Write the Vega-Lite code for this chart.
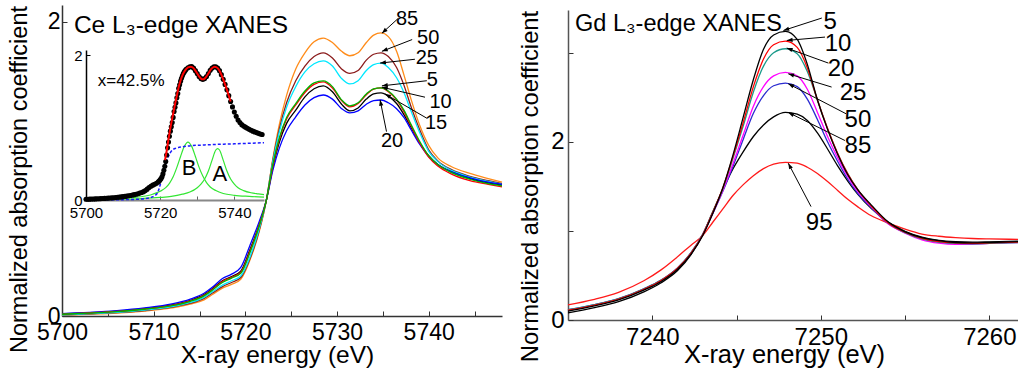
{
"$schema":"https://vega.github.io/schema/vega-lite/v6.json",
"width":1018,"height":374,"autosize":{"type":"none"},"padding":0,"background":"white",
"config":{"view":{"stroke":null},"axis":{"grid":false,"labelFont":"Liberation Sans","titleFont":"Liberation Sans","labelColor":"#000","titleColor":"#000","titleFontWeight":"normal","domainColor":"#333","tickColor":"#333","domainWidth":1.5,"labelFlush":false,"labelOverlap":false,"labelBound":false,"titleAlign":"center"},"text":{"font":"Liberation Sans","color":"#000"}},
"datasets":{
"ce":[
{"s":"85","x":5700,"y":0.005},{"s":"85","x":5703,"y":0.012},{"s":"85","x":5706,"y":0.02},{"s":"85","x":5709,"y":0.033},{"s":"85","x":5712,"y":0.055},{"s":"85","x":5714,"y":0.08},{"s":"85","x":5715.5,"y":0.11},{"s":"85","x":5716.5,"y":0.15},{"s":"85","x":5717.5,"y":0.19},{"s":"85","x":5718.5,"y":0.215},{"s":"85","x":5719.5,"y":0.25},{"s":"85","x":5720.5,"y":0.38},{"s":"85","x":5721.5,"y":0.57},{"s":"85","x":5722.3,"y":0.79},{"s":"85","x":5723,"y":1.07},{"s":"85","x":5723.7,"y":1.3},{"s":"85","x":5724.5,"y":1.5},{"s":"85","x":5725.5,"y":1.68},{"s":"85","x":5726.5,"y":1.79},{"s":"85","x":5727.5,"y":1.865},{"s":"85","x":5728.5,"y":1.89},{"s":"85","x":5729.5,"y":1.86},{"s":"85","x":5730.5,"y":1.8},{"s":"85","x":5731.4,"y":1.77},{"s":"85","x":5732.3,"y":1.79},{"s":"85","x":5733.2,"y":1.86},{"s":"85","x":5734,"y":1.91},{"s":"85","x":5734.8,"y":1.925},{"s":"85","x":5735.6,"y":1.9},{"s":"85","x":5736.5,"y":1.8},{"s":"85","x":5737.3,"y":1.64},{"s":"85","x":5738.1,"y":1.47},{"s":"85","x":5739,"y":1.3},{"s":"85","x":5740,"y":1.16},{"s":"85","x":5741,"y":1.075},{"s":"85","x":5742.5,"y":1.015},{"s":"85","x":5744.5,"y":0.97},{"s":"85","x":5746.5,"y":0.935},{"s":"85","x":5748,"y":0.91},
{"s":"50","x":5700,"y":0.007},{"s":"50","x":5703,"y":0.014},{"s":"50","x":5706,"y":0.023},{"s":"50","x":5709,"y":0.037},{"s":"50","x":5712,"y":0.06},{"s":"50","x":5714,"y":0.087},{"s":"50","x":5715.5,"y":0.12},{"s":"50","x":5716.5,"y":0.16},{"s":"50","x":5717.5,"y":0.2},{"s":"50","x":5718.5,"y":0.228},{"s":"50","x":5719.5,"y":0.262},{"s":"50","x":5720.5,"y":0.39},{"s":"50","x":5721.5,"y":0.58},{"s":"50","x":5722.3,"y":0.79},{"s":"50","x":5723,"y":1.06},{"s":"50","x":5723.7,"y":1.27},{"s":"50","x":5724.5,"y":1.45},{"s":"50","x":5725.5,"y":1.6},{"s":"50","x":5726.5,"y":1.7},{"s":"50","x":5727.5,"y":1.765},{"s":"50","x":5728.5,"y":1.79},{"s":"50","x":5729.5,"y":1.755},{"s":"50","x":5730.5,"y":1.68},{"s":"50","x":5731.4,"y":1.65},{"s":"50","x":5732.3,"y":1.67},{"s":"50","x":5733.2,"y":1.74},{"s":"50","x":5734,"y":1.78},{"s":"50","x":5734.8,"y":1.79},{"s":"50","x":5735.6,"y":1.765},{"s":"50","x":5736.5,"y":1.69},{"s":"50","x":5737.3,"y":1.57},{"s":"50","x":5738.1,"y":1.42},{"s":"50","x":5739,"y":1.27},{"s":"50","x":5740,"y":1.13},{"s":"50","x":5741,"y":1.055},{"s":"50","x":5742.5,"y":0.995},{"s":"50","x":5744.5,"y":0.95},{"s":"50","x":5746.5,"y":0.92},{"s":"50","x":5748,"y":0.9},
{"s":"25","x":5700,"y":0.008},{"s":"25","x":5703,"y":0.016},{"s":"25","x":5706,"y":0.025},{"s":"25","x":5709,"y":0.04},{"s":"25","x":5712,"y":0.063},{"s":"25","x":5714,"y":0.092},{"s":"25","x":5715.5,"y":0.127},{"s":"25","x":5716.5,"y":0.168},{"s":"25","x":5717.5,"y":0.21},{"s":"25","x":5718.5,"y":0.24},{"s":"25","x":5719.5,"y":0.272},{"s":"25","x":5720.5,"y":0.4},{"s":"25","x":5721.5,"y":0.59},{"s":"25","x":5722.3,"y":0.79},{"s":"25","x":5723,"y":1.05},{"s":"25","x":5723.7,"y":1.25},{"s":"25","x":5724.5,"y":1.42},{"s":"25","x":5725.5,"y":1.56},{"s":"25","x":5726.5,"y":1.66},{"s":"25","x":5727.5,"y":1.715},{"s":"25","x":5728.5,"y":1.735},{"s":"25","x":5729.5,"y":1.7},{"s":"25","x":5730.5,"y":1.615},{"s":"25","x":5731.4,"y":1.578},{"s":"25","x":5732.3,"y":1.6},{"s":"25","x":5733.2,"y":1.67},{"s":"25","x":5734,"y":1.71},{"s":"25","x":5734.8,"y":1.72},{"s":"25","x":5735.6,"y":1.69},{"s":"25","x":5736.5,"y":1.62},{"s":"25","x":5737.3,"y":1.52},{"s":"25","x":5738.1,"y":1.39},{"s":"25","x":5739,"y":1.25},{"s":"25","x":5740,"y":1.12},{"s":"25","x":5741,"y":1.05},{"s":"25","x":5742.5,"y":0.99},{"s":"25","x":5744.5,"y":0.945},{"s":"25","x":5746.5,"y":0.915},{"s":"25","x":5748,"y":0.895},
{"s":"15","x":5700,"y":0.014},{"s":"15","x":5703,"y":0.022},{"s":"15","x":5706,"y":0.033},{"s":"15","x":5709,"y":0.05},{"s":"15","x":5712,"y":0.075},{"s":"15","x":5714,"y":0.107},{"s":"15","x":5715.5,"y":0.145},{"s":"15","x":5716.5,"y":0.19},{"s":"15","x":5717.5,"y":0.24},{"s":"15","x":5718.5,"y":0.268},{"s":"15","x":5719.5,"y":0.305},{"s":"15","x":5720.5,"y":0.45},{"s":"15","x":5721.5,"y":0.62},{"s":"15","x":5722.3,"y":0.79},{"s":"15","x":5723,"y":1.01},{"s":"15","x":5723.7,"y":1.18},{"s":"15","x":5724.5,"y":1.31},{"s":"15","x":5725.5,"y":1.4},{"s":"15","x":5726.5,"y":1.49},{"s":"15","x":5727.5,"y":1.545},{"s":"15","x":5728.5,"y":1.565},{"s":"15","x":5729.5,"y":1.525},{"s":"15","x":5730.5,"y":1.44},{"s":"15","x":5731.4,"y":1.395},{"s":"15","x":5732.3,"y":1.415},{"s":"15","x":5733.2,"y":1.475},{"s":"15","x":5734,"y":1.51},{"s":"15","x":5734.8,"y":1.517},{"s":"15","x":5735.6,"y":1.495},{"s":"15","x":5736.5,"y":1.445},{"s":"15","x":5737.3,"y":1.37},{"s":"15","x":5738.1,"y":1.28},{"s":"15","x":5739,"y":1.18},{"s":"15","x":5740,"y":1.09},{"s":"15","x":5741,"y":1.03},{"s":"15","x":5742.5,"y":0.98},{"s":"15","x":5744.5,"y":0.935},{"s":"15","x":5746.5,"y":0.905},{"s":"15","x":5748,"y":0.89},
{"s":"20","x":5700,"y":0.016},{"s":"20","x":5703,"y":0.025},{"s":"20","x":5706,"y":0.037},{"s":"20","x":5709,"y":0.055},{"s":"20","x":5712,"y":0.082},{"s":"20","x":5714,"y":0.115},{"s":"20","x":5715.5,"y":0.155},{"s":"20","x":5716.5,"y":0.2},{"s":"20","x":5717.5,"y":0.255},{"s":"20","x":5718.5,"y":0.285},{"s":"20","x":5719.5,"y":0.33},{"s":"20","x":5720.5,"y":0.48},{"s":"20","x":5721.5,"y":0.64},{"s":"20","x":5722.3,"y":0.79},{"s":"20","x":5723,"y":0.99},{"s":"20","x":5723.7,"y":1.14},{"s":"20","x":5724.5,"y":1.26},{"s":"20","x":5725.5,"y":1.355},{"s":"20","x":5726.5,"y":1.435},{"s":"20","x":5727.5,"y":1.485},{"s":"20","x":5728.5,"y":1.503},{"s":"20","x":5729.5,"y":1.475},{"s":"20","x":5730.5,"y":1.41},{"s":"20","x":5731.4,"y":1.381},{"s":"20","x":5732.3,"y":1.395},{"s":"20","x":5733.2,"y":1.44},{"s":"20","x":5734,"y":1.465},{"s":"20","x":5734.8,"y":1.469},{"s":"20","x":5735.6,"y":1.45},{"s":"20","x":5736.5,"y":1.41},{"s":"20","x":5737.3,"y":1.35},{"s":"20","x":5738.1,"y":1.265},{"s":"20","x":5739,"y":1.17},{"s":"20","x":5740,"y":1.085},{"s":"20","x":5741,"y":1.03},{"s":"20","x":5742.5,"y":0.98},{"s":"20","x":5744.5,"y":0.94},{"s":"20","x":5746.5,"y":0.91},{"s":"20","x":5748,"y":0.895},
{"s":"10","x":5700,"y":0.013},{"s":"10","x":5703,"y":0.021},{"s":"10","x":5706,"y":0.031},{"s":"10","x":5709,"y":0.047},{"s":"10","x":5712,"y":0.072},{"s":"10","x":5714,"y":0.103},{"s":"10","x":5715.5,"y":0.14},{"s":"10","x":5716.5,"y":0.185},{"s":"10","x":5717.5,"y":0.235},{"s":"10","x":5718.5,"y":0.263},{"s":"10","x":5719.5,"y":0.297},{"s":"10","x":5720.5,"y":0.44},{"s":"10","x":5721.5,"y":0.615},{"s":"10","x":5722.3,"y":0.79},{"s":"10","x":5723,"y":1.02},{"s":"10","x":5723.7,"y":1.2},{"s":"10","x":5724.5,"y":1.34},{"s":"10","x":5725.5,"y":1.435},{"s":"10","x":5726.5,"y":1.52},{"s":"10","x":5727.5,"y":1.575},{"s":"10","x":5728.5,"y":1.592},{"s":"10","x":5729.5,"y":1.55},{"s":"10","x":5730.5,"y":1.465},{"s":"10","x":5731.4,"y":1.422},{"s":"10","x":5732.3,"y":1.445},{"s":"10","x":5733.2,"y":1.505},{"s":"10","x":5734,"y":1.543},{"s":"10","x":5734.8,"y":1.551},{"s":"10","x":5735.6,"y":1.525},{"s":"10","x":5736.5,"y":1.47},{"s":"10","x":5737.3,"y":1.39},{"s":"10","x":5738.1,"y":1.29},{"s":"10","x":5739,"y":1.18},{"s":"10","x":5740,"y":1.08},{"s":"10","x":5741,"y":1.02},{"s":"10","x":5742.5,"y":0.965},{"s":"10","x":5744.5,"y":0.92},{"s":"10","x":5746.5,"y":0.895},{"s":"10","x":5748,"y":0.878},
{"s":"5","x":5700,"y":0.012},{"s":"5","x":5703,"y":0.02},{"s":"5","x":5706,"y":0.03},{"s":"5","x":5709,"y":0.046},{"s":"5","x":5712,"y":0.07},{"s":"5","x":5714,"y":0.1},{"s":"5","x":5715.5,"y":0.137},{"s":"5","x":5716.5,"y":0.18},{"s":"5","x":5717.5,"y":0.228},{"s":"5","x":5718.5,"y":0.258},{"s":"5","x":5719.5,"y":0.29},{"s":"5","x":5720.5,"y":0.43},{"s":"5","x":5721.5,"y":0.61},{"s":"5","x":5722.3,"y":0.79},{"s":"5","x":5723,"y":1.03},{"s":"5","x":5723.7,"y":1.21},{"s":"5","x":5724.5,"y":1.35},{"s":"5","x":5725.5,"y":1.445},{"s":"5","x":5726.5,"y":1.53},{"s":"5","x":5727.5,"y":1.585},{"s":"5","x":5728.5,"y":1.599},{"s":"5","x":5729.5,"y":1.56},{"s":"5","x":5730.5,"y":1.47},{"s":"5","x":5731.4,"y":1.429},{"s":"5","x":5732.3,"y":1.45},{"s":"5","x":5733.2,"y":1.51},{"s":"5","x":5734,"y":1.545},{"s":"5","x":5734.8,"y":1.551},{"s":"5","x":5735.6,"y":1.53},{"s":"5","x":5736.5,"y":1.475},{"s":"5","x":5737.3,"y":1.4},{"s":"5","x":5738.1,"y":1.3},{"s":"5","x":5739,"y":1.19},{"s":"5","x":5740,"y":1.09},{"s":"5","x":5741,"y":1.03},{"s":"5","x":5742.5,"y":0.975},{"s":"5","x":5744.5,"y":0.93},{"s":"5","x":5746.5,"y":0.9},{"s":"5","x":5748,"y":0.885}
],
"celab":[
{"lab":"85","tx":5737.65,"ty":2.02,"ax":5736.7,"ay":2.025,"bx":5734.9,"by":1.923},
{"lab":"50","tx":5739.95,"ty":1.89,"ax":5738.2,"ay":1.88,"bx":5734.9,"by":1.8},
{"lab":"25","tx":5739.8,"ty":1.755,"ax":5738.5,"ay":1.746,"bx":5734.7,"by":1.72},
{"lab":"5","tx":5740.4,"ty":1.605,"ax":5739.8,"ay":1.6,"bx":5734.9,"by":1.565},
{"lab":"10","tx":5741.3,"ty":1.456,"ax":5739.6,"ay":1.488,"bx":5734.9,"by":1.556},
{"lab":"15","tx":5740.8,"ty":1.313,"ax":5739.8,"ay":1.345,"bx":5735.25,"by":1.51},
{"lab":"20","tx":5736.0,"ty":1.19,"ax":5735.4,"ay":1.254,"bx":5734.7,"by":1.47}
],
"dots":[
{"x":5700,"y":0.01},{"x":5700.5,"y":0.011},{"x":5701,"y":0.012},{"x":5701.5,"y":0.013},{"x":5702,"y":0.014},{"x":5702.5,"y":0.015},{"x":5703,"y":0.017},{"x":5703.5,"y":0.018},{"x":5704,"y":0.019},{"x":5704.5,"y":0.021},{"x":5705,"y":0.022},{"x":5705.5,"y":0.024},{"x":5706,"y":0.026},{"x":5706.5,"y":0.028},{"x":5707,"y":0.03},{"x":5707.5,"y":0.032},{"x":5708,"y":0.035},{"x":5708.5,"y":0.037},{"x":5709,"y":0.04},{"x":5709.5,"y":0.043},{"x":5710,"y":0.046},{"x":5710.5,"y":0.05},{"x":5711,"y":0.054},{"x":5711.5,"y":0.058},{"x":5712,"y":0.063},{"x":5712.5,"y":0.068},{"x":5713,"y":0.074},{"x":5713.5,"y":0.08},{"x":5714,"y":0.087},{"x":5714.5,"y":0.095},{"x":5715,"y":0.104},{"x":5715.5,"y":0.115},{"x":5716,"y":0.13},{"x":5716.5,"y":0.15},{"x":5717,"y":0.172},{"x":5717.5,"y":0.19},{"x":5718,"y":0.205},{"x":5718.5,"y":0.218},{"x":5719,"y":0.232},{"x":5719.5,"y":0.25},{"x":5719.75,"y":0.262},{"x":5720,"y":0.278},{"x":5720.25,"y":0.297},{"x":5720.5,"y":0.32},{"x":5720.75,"y":0.36},{"x":5721,"y":0.41},{"x":5721.25,"y":0.465},{"x":5721.5,"y":0.53},{"x":5721.75,"y":0.62},{"x":5722,"y":0.72},{"x":5722.25,"y":0.8},{"x":5722.5,"y":0.88},{"x":5722.75,"y":0.95},{"x":5723,"y":1.01},{"x":5723.25,"y":1.07},{"x":5723.5,"y":1.14},{"x":5723.75,"y":1.22},{"x":5724,"y":1.28},{"x":5724.25,"y":1.34},{"x":5724.5,"y":1.41},{"x":5724.75,"y":1.47},{"x":5725,"y":1.54},{"x":5725.25,"y":1.59},{"x":5725.5,"y":1.64},{"x":5725.75,"y":1.68},{"x":5726,"y":1.715},{"x":5726.25,"y":1.745},{"x":5726.5,"y":1.768},{"x":5726.75,"y":1.787},{"x":5727,"y":1.805},{"x":5727.5,"y":1.825},{"x":5728,"y":1.838},{"x":5728.5,"y":1.84},{"x":5729,"y":1.82},{"x":5729.5,"y":1.785},{"x":5730,"y":1.745},{"x":5730.5,"y":1.705},{"x":5731,"y":1.675},{"x":5731.5,"y":1.665},{"x":5732,"y":1.675},{"x":5732.5,"y":1.705},{"x":5733,"y":1.745},{"x":5733.5,"y":1.79},{"x":5734,"y":1.82},{"x":5734.5,"y":1.838},{"x":5735,"y":1.838},{"x":5735.5,"y":1.82},{"x":5736,"y":1.785},{"x":5736.5,"y":1.73},{"x":5737,"y":1.665},{"x":5737.5,"y":1.595},{"x":5738,"y":1.52},{"x":5738.5,"y":1.44},{"x":5739,"y":1.36},{"x":5739.5,"y":1.285},{"x":5740,"y":1.215},{"x":5740.5,"y":1.155},{"x":5741,"y":1.105},{"x":5741.5,"y":1.07},{"x":5742,"y":1.04},{"x":5742.5,"y":1.02},{"x":5743,"y":1.005},{"x":5743.5,"y":0.99},{"x":5744,"y":0.975},{"x":5744.5,"y":0.962},{"x":5745,"y":0.95},{"x":5745.5,"y":0.94},{"x":5746,"y":0.93},{"x":5746.5,"y":0.92},{"x":5747,"y":0.91},{"x":5747.5,"y":0.903}
],
"fit":[
{"x":5721.3,"y":0.55},{"x":5721.7,"y":0.66},{"x":5722,"y":0.76},{"x":5722.5,"y":0.92},{"x":5723,"y":1.06},{"x":5723.5,"y":1.19},{"x":5724,"y":1.32},{"x":5724.5,"y":1.44},{"x":5725,"y":1.56},{"x":5725.5,"y":1.65},{"x":5726,"y":1.72},{"x":5726.5,"y":1.77},{"x":5727,"y":1.805},{"x":5727.5,"y":1.83},{"x":5728.3,"y":1.84},{"x":5729,"y":1.82},{"x":5729.5,"y":1.785},{"x":5730,"y":1.745},{"x":5730.5,"y":1.705},{"x":5731,"y":1.675},{"x":5731.5,"y":1.665},{"x":5732,"y":1.675},{"x":5732.5,"y":1.705},{"x":5733,"y":1.745},{"x":5733.5,"y":1.79},{"x":5734,"y":1.82},{"x":5734.7,"y":1.84},{"x":5735.5,"y":1.82},{"x":5736,"y":1.785},{"x":5736.5,"y":1.73},{"x":5737,"y":1.665},{"x":5737.5,"y":1.595},{"x":5738,"y":1.52},{"x":5738.5,"y":1.44},{"x":5739,"y":1.36}
],
"comps":[
{"s":"B","x":5700,"y":0.01},{"s":"B","x":5705,"y":0.015},{"s":"B","x":5710,"y":0.025},{"s":"B","x":5713,"y":0.035},{"s":"B","x":5716,"y":0.055},{"s":"B","x":5718,"y":0.08},{"s":"B","x":5720,"y":0.12},{"s":"B","x":5721.5,"y":0.17},{"s":"B","x":5722.5,"y":0.23},{"s":"B","x":5723.5,"y":0.32},{"s":"B","x":5724.5,"y":0.45},{"s":"B","x":5725.5,"y":0.6},{"s":"B","x":5726.5,"y":0.74},{"s":"B","x":5727.5,"y":0.8},{"s":"B","x":5728.5,"y":0.74},{"s":"B","x":5729.5,"y":0.6},{"s":"B","x":5730.5,"y":0.45},{"s":"B","x":5731.5,"y":0.33},{"s":"B","x":5732.5,"y":0.24},{"s":"B","x":5733.5,"y":0.18},{"s":"B","x":5735,"y":0.13},{"s":"B","x":5737,"y":0.09},{"s":"B","x":5740,"y":0.065},{"s":"B","x":5744,"y":0.05},{"s":"B","x":5748,"y":0.04},
{"s":"A","x":5700,"y":0.005},{"s":"A","x":5710,"y":0.012},{"s":"A","x":5715,"y":0.02},{"s":"A","x":5720,"y":0.035},{"s":"A","x":5723,"y":0.05},{"s":"A","x":5726,"y":0.08},{"s":"A","x":5728,"y":0.11},{"s":"A","x":5730,"y":0.17},{"s":"A","x":5731,"y":0.22},{"s":"A","x":5732,"y":0.29},{"s":"A","x":5733,"y":0.4},{"s":"A","x":5734,"y":0.55},{"s":"A","x":5735,"y":0.69},{"s":"A","x":5735.5,"y":0.71},{"s":"A","x":5736,"y":0.69},{"s":"A","x":5737,"y":0.55},{"s":"A","x":5738,"y":0.4},{"s":"A","x":5739,"y":0.29},{"s":"A","x":5740,"y":0.22},{"s":"A","x":5741,"y":0.17},{"s":"A","x":5742.5,"y":0.13},{"s":"A","x":5744.5,"y":0.1},{"s":"A","x":5746.5,"y":0.085},{"s":"A","x":5748,"y":0.075}
],
"step":[
{"x":5700,"y":0.0},{"x":5705,"y":0.002},{"x":5710,"y":0.005},{"x":5714,"y":0.01},{"x":5716,"y":0.02},{"x":5717.5,"y":0.035},{"x":5718.5,"y":0.06},{"x":5719.2,"y":0.09},{"x":5719.8,"y":0.17},{"x":5720.3,"y":0.27},{"x":5720.8,"y":0.37},{"x":5721.3,"y":0.46},{"x":5722,"y":0.57},{"x":5722.6,"y":0.64},{"x":5723.3,"y":0.69},{"x":5724,"y":0.71},{"x":5725.5,"y":0.73},{"x":5727.5,"y":0.745},{"x":5732,"y":0.76},{"x":5740,"y":0.775},{"x":5748,"y":0.79}
],
"gd":[
{"s":"95","x":7235,"y":0.17},{"s":"95","x":7236.5,"y":0.23},{"s":"95","x":7238,"y":0.31},{"s":"95","x":7239.5,"y":0.44},{"s":"95","x":7240.5,"y":0.56},{"s":"95","x":7241.5,"y":0.71},{"s":"95","x":7242.3,"y":0.84},{"s":"95","x":7243,"y":0.95},{"s":"95","x":7243.6,"y":1.1},{"s":"95","x":7244.2,"y":1.25},{"s":"95","x":7244.8,"y":1.4},{"s":"95","x":7245.4,"y":1.52},{"s":"95","x":7246,"y":1.62},{"s":"95","x":7246.6,"y":1.7},{"s":"95","x":7247.2,"y":1.75},{"s":"95","x":7247.9,"y":1.77},{"s":"95","x":7248.6,"y":1.76},{"s":"95","x":7249.2,"y":1.715},{"s":"95","x":7249.8,"y":1.645},{"s":"95","x":7250.4,"y":1.555},{"s":"95","x":7251,"y":1.455},{"s":"95","x":7251.6,"y":1.355},{"s":"95","x":7252.2,"y":1.27},{"s":"95","x":7253,"y":1.17},{"s":"95","x":7254,"y":1.09},{"s":"95","x":7255,"y":1.02},{"s":"95","x":7256,"y":0.965},{"s":"95","x":7257,"y":0.94},{"s":"95","x":7258,"y":0.925},{"s":"95","x":7259,"y":0.915},{"s":"95","x":7260,"y":0.91},{"s":"95","x":7261.7,"y":0.905},
{"s":"85","x":7235,"y":0.08},{"s":"85","x":7236.5,"y":0.135},{"s":"85","x":7238,"y":0.205},{"s":"85","x":7239.5,"y":0.315},{"s":"85","x":7240.5,"y":0.415},{"s":"85","x":7241.5,"y":0.555},{"s":"85","x":7242.3,"y":0.735},{"s":"85","x":7243,"y":0.96},{"s":"85","x":7243.6,"y":1.22},{"s":"85","x":7244.2,"y":1.47},{"s":"85","x":7244.8,"y":1.7},{"s":"85","x":7245.4,"y":1.89},{"s":"85","x":7246,"y":2.06},{"s":"85","x":7246.6,"y":2.19},{"s":"85","x":7247.2,"y":2.28},{"s":"85","x":7247.9,"y":2.33},{"s":"85","x":7248.6,"y":2.31},{"s":"85","x":7249.2,"y":2.24},{"s":"85","x":7249.8,"y":2.1},{"s":"85","x":7250.4,"y":1.92},{"s":"85","x":7251,"y":1.73},{"s":"85","x":7251.6,"y":1.56},{"s":"85","x":7252.2,"y":1.41},{"s":"85","x":7253,"y":1.25},{"s":"85","x":7254,"y":1.1},{"s":"85","x":7255,"y":0.995},{"s":"85","x":7256,"y":0.93},{"s":"85","x":7257,"y":0.895},{"s":"85","x":7258,"y":0.88},{"s":"85","x":7259,"y":0.875},{"s":"85","x":7260,"y":0.878},{"s":"85","x":7261.7,"y":0.885},
{"s":"50","x":7235,"y":0.115},{"s":"50","x":7236.5,"y":0.17},{"s":"50","x":7238,"y":0.24},{"s":"50","x":7239.5,"y":0.35},{"s":"50","x":7240.5,"y":0.445},{"s":"50","x":7241.5,"y":0.585},{"s":"50","x":7242.3,"y":0.755},{"s":"50","x":7243,"y":0.965},{"s":"50","x":7243.6,"y":1.2},{"s":"50","x":7244.2,"y":1.45},{"s":"50","x":7244.8,"y":1.73},{"s":"50","x":7245.4,"y":2.03},{"s":"50","x":7246,"y":2.32},{"s":"50","x":7246.6,"y":2.52},{"s":"50","x":7247.2,"y":2.63},{"s":"50","x":7247.9,"y":2.66},{"s":"50","x":7248.6,"y":2.62},{"s":"50","x":7249.2,"y":2.48},{"s":"50","x":7249.8,"y":2.25},{"s":"50","x":7250.4,"y":2.0},{"s":"50","x":7251,"y":1.78},{"s":"50","x":7251.6,"y":1.58},{"s":"50","x":7252.2,"y":1.42},{"s":"50","x":7253,"y":1.26},{"s":"50","x":7254,"y":1.08},{"s":"50","x":7255,"y":0.98},{"s":"50","x":7256,"y":0.91},{"s":"50","x":7257,"y":0.875},{"s":"50","x":7258,"y":0.86},{"s":"50","x":7259,"y":0.86},{"s":"50","x":7260,"y":0.865},{"s":"50","x":7261.7,"y":0.875},
{"s":"25","x":7235,"y":0.11},{"s":"25","x":7236.5,"y":0.165},{"s":"25","x":7238,"y":0.235},{"s":"25","x":7239.5,"y":0.345},{"s":"25","x":7240.5,"y":0.44},{"s":"25","x":7241.5,"y":0.58},{"s":"25","x":7242.3,"y":0.75},{"s":"25","x":7243,"y":0.96},{"s":"25","x":7243.6,"y":1.2},{"s":"25","x":7244.2,"y":1.46},{"s":"25","x":7244.8,"y":1.76},{"s":"25","x":7245.4,"y":2.08},{"s":"25","x":7246,"y":2.4},{"s":"25","x":7246.6,"y":2.62},{"s":"25","x":7247.2,"y":2.74},{"s":"25","x":7247.9,"y":2.78},{"s":"25","x":7248.6,"y":2.74},{"s":"25","x":7249.2,"y":2.59},{"s":"25","x":7249.8,"y":2.33},{"s":"25","x":7250.4,"y":2.06},{"s":"25","x":7251,"y":1.82},{"s":"25","x":7251.6,"y":1.61},{"s":"25","x":7252.2,"y":1.44},{"s":"25","x":7253,"y":1.27},{"s":"25","x":7254,"y":1.08},{"s":"25","x":7255,"y":0.975},{"s":"25","x":7256,"y":0.9},{"s":"25","x":7257,"y":0.862},{"s":"25","x":7258,"y":0.848},{"s":"25","x":7259,"y":0.85},{"s":"25","x":7260,"y":0.86},{"s":"25","x":7261.7,"y":0.87},
{"s":"20","x":7235,"y":0.115},{"s":"20","x":7236.5,"y":0.17},{"s":"20","x":7238,"y":0.24},{"s":"20","x":7239.5,"y":0.35},{"s":"20","x":7240.5,"y":0.445},{"s":"20","x":7241.5,"y":0.585},{"s":"20","x":7242.3,"y":0.755},{"s":"20","x":7243,"y":0.965},{"s":"20","x":7243.6,"y":1.21},{"s":"20","x":7244.2,"y":1.48},{"s":"20","x":7244.8,"y":1.82},{"s":"20","x":7245.4,"y":2.18},{"s":"20","x":7246,"y":2.56},{"s":"20","x":7246.6,"y":2.85},{"s":"20","x":7247.2,"y":3.0},{"s":"20","x":7247.9,"y":3.045},{"s":"20","x":7248.6,"y":2.99},{"s":"20","x":7249.2,"y":2.79},{"s":"20","x":7249.8,"y":2.47},{"s":"20","x":7250.4,"y":2.15},{"s":"20","x":7251,"y":1.87},{"s":"20","x":7251.6,"y":1.64},{"s":"20","x":7252.2,"y":1.46},{"s":"20","x":7253,"y":1.28},{"s":"20","x":7254,"y":1.09},{"s":"20","x":7255,"y":0.98},{"s":"20","x":7256,"y":0.91},{"s":"20","x":7257,"y":0.875},{"s":"20","x":7258,"y":0.86},{"s":"20","x":7259,"y":0.855},{"s":"20","x":7260,"y":0.86},{"s":"20","x":7261.7,"y":0.87},
{"s":"10","x":7235,"y":0.11},{"s":"10","x":7236.5,"y":0.165},{"s":"10","x":7238,"y":0.235},{"s":"10","x":7239.5,"y":0.345},{"s":"10","x":7240.5,"y":0.44},{"s":"10","x":7241.5,"y":0.58},{"s":"10","x":7242.3,"y":0.75},{"s":"10","x":7243,"y":0.96},{"s":"10","x":7243.6,"y":1.21},{"s":"10","x":7244.2,"y":1.49},{"s":"10","x":7244.8,"y":1.84},{"s":"10","x":7245.4,"y":2.22},{"s":"10","x":7246,"y":2.62},{"s":"10","x":7246.6,"y":2.93},{"s":"10","x":7247.2,"y":3.09},{"s":"10","x":7247.9,"y":3.13},{"s":"10","x":7248.6,"y":3.06},{"s":"10","x":7249.2,"y":2.83},{"s":"10","x":7249.8,"y":2.47},{"s":"10","x":7250.4,"y":2.15},{"s":"10","x":7251,"y":1.87},{"s":"10","x":7251.6,"y":1.64},{"s":"10","x":7252.2,"y":1.46},{"s":"10","x":7253,"y":1.28},{"s":"10","x":7254,"y":1.09},{"s":"10","x":7255,"y":0.985},{"s":"10","x":7256,"y":0.915},{"s":"10","x":7257,"y":0.88},{"s":"10","x":7258,"y":0.865},{"s":"10","x":7259,"y":0.86},{"s":"10","x":7260,"y":0.865},{"s":"10","x":7261.7,"y":0.875},
{"s":"5","x":7235,"y":0.1},{"s":"5","x":7236.5,"y":0.155},{"s":"5","x":7238,"y":0.225},{"s":"5","x":7239.5,"y":0.335},{"s":"5","x":7240.5,"y":0.43},{"s":"5","x":7241.5,"y":0.57},{"s":"5","x":7242.3,"y":0.74},{"s":"5","x":7243,"y":0.95},{"s":"5","x":7243.6,"y":1.2},{"s":"5","x":7244.2,"y":1.49},{"s":"5","x":7244.8,"y":1.86},{"s":"5","x":7245.4,"y":2.28},{"s":"5","x":7246,"y":2.7},{"s":"5","x":7246.6,"y":3.04},{"s":"5","x":7247.2,"y":3.2},{"s":"5","x":7247.9,"y":3.24},{"s":"5","x":7248.6,"y":3.15},{"s":"5","x":7249.2,"y":2.87},{"s":"5","x":7249.8,"y":2.47},{"s":"5","x":7250.4,"y":2.14},{"s":"5","x":7251,"y":1.86},{"s":"5","x":7251.6,"y":1.63},{"s":"5","x":7252.2,"y":1.46},{"s":"5","x":7253,"y":1.29},{"s":"5","x":7254,"y":1.1},{"s":"5","x":7255,"y":0.99},{"s":"5","x":7256,"y":0.925},{"s":"5","x":7257,"y":0.89},{"s":"5","x":7258,"y":0.87},{"s":"5","x":7259,"y":0.865},{"s":"5","x":7260,"y":0.87},{"s":"5","x":7261.7,"y":0.88}
],
"gdlab":[
{"lab":"5","tx":7250.55,"ty":3.348,"ax":7250.06,"ay":3.39,"bx":7247.78,"by":3.25},
{"lab":"10","tx":7251.02,"ty":3.1,"ax":7250.25,"ay":3.176,"bx":7247.98,"by":3.138},
{"lab":"20","tx":7251.2,"ty":2.82,"ax":7250.45,"ay":2.884,"bx":7247.98,"by":3.053},
{"lab":"25","tx":7251.91,"ty":2.55,"ax":7250.64,"ay":2.615,"bx":7248.07,"by":2.764},
{"lab":"50","tx":7252.2,"ty":2.247,"ax":7251.5,"ay":2.315,"bx":7248.07,"by":2.652},
{"lab":"85","tx":7252.2,"ty":1.955,"ax":7251.43,"ay":2.015,"bx":7248.07,"by":2.33},
{"lab":"95","tx":7249.9,"ty":1.09,"ax":7249.42,"ay":1.273,"bx":7248.07,"by":1.76}
]
},
"layer":[
{"layer":[
 {"data":{"name":"ce"},"mark":{"type":"line","strokeWidth":1.3,"interpolate":"monotone"},
  "encoding":{
   "x":{"field":"x","type":"quantitative","scale":{"domain":[5700,5748],"range":[62,502],"nice":false,"zero":false},
     "axis":{"orient":"bottom","offset":-58,"values":[5700,5705,5710,5715,5720,5725,5730,5735,5740,5745],"format":"d","labelExpr":"datum.value % 10 === 0 ? datum.label : ''","tickSize":-5,"labelPadding":10,"labelFontSize":23,"title":"X-ray energy (eV)","titleFontSize":24.5,"titleX":277,"titleY":46.5,"titleBaseline":"alphabetic"}},
   "y":{"field":"y","type":"quantitative","scale":{"domain":[0,2.115],"range":[316,5],"nice":false,"zero":false},
     "axis":{"orient":"left","offset":-62,"values":[0,0.5,1,1.5,2],"format":"d","labelExpr":"datum.value % 1 === 0 ? datum.label : ''","tickSize":-5,"labelPadding":7,"labelFontSize":23,"title":"Normalized absorption coefficient","titleFontSize":23.5,"titleX":-36,"titleY":179,"titleBaseline":"alphabetic","titleAngle":270}},
   "color":{"field":"s","type":"nominal","scale":{"domain":["85","50","25","15","20","10","5"],"range":["#ff8c1a","#8b1c1c","#00e8ff","#000000","#0000ff","#ff0000","#00b400"]},"legend":null}
  }},
 {"data":{"name":"celab"},"mark":{"type":"rule","color":"#000","strokeWidth":1},
  "encoding":{"x":{"field":"ax","type":"quantitative"},"y":{"field":"ay","type":"quantitative"},"x2":{"field":"bx"},"y2":{"field":"by"}}},
 {"data":{"name":"celab"},"transform":[{"calculate":"atan2(-(datum.by - datum.ay) * 147.04, (datum.bx - datum.ax) * 9.167) * 180 / PI","as":"ang"}],
  "mark":{"type":"point","filled":true,"color":"#000","opacity":1,"size":28,"strokeWidth":0,"shape":"M0,0L-2.2,-0.8L-2.2,0.8Z"},
  "encoding":{"x":{"field":"bx","type":"quantitative"},"y":{"field":"by","type":"quantitative"},"angle":{"field":"ang","type":"quantitative","scale":null}}},
 {"data":{"name":"celab"},"mark":{"type":"text","fontSize":20,"align":"center","baseline":"middle"},
  "encoding":{"x":{"field":"tx","type":"quantitative"},"y":{"field":"ty","type":"quantitative"},"text":{"field":"lab"}}},
 {"data":{"values":[{}]},"mark":{"type":"text","fontSize":24.5,"align":"left","baseline":"alphabetic","text":"Ce L₃-edge XANES"},
  "encoding":{"x":{"datum":5701.3,"type":"quantitative"},"y":{"datum":1.923,"type":"quantitative"}}}
]},
{"layer":[
 {"data":{"name":"comps"},"mark":{"type":"line","strokeWidth":1.2,"interpolate":"monotone","color":"#33e633"},
  "encoding":{
   "x":{"field":"x","type":"quantitative","scale":{"domain":[5700,5748],"range":[86,264],"nice":false,"zero":false},
     "axis":{"orient":"bottom","offset":-174,"values":[5700,5710,5720,5730,5740],"format":"d","labelExpr":"datum.value % 20 === 0 ? datum.label : ''","tickSize":-4,"labelPadding":9,"labelFontSize":15,"title":null,"domainColor":"#888","domainWidth":2,"tickColor":"#666"}},
   "y":{"field":"y","type":"quantitative","scale":{"domain":[0,2.07],"range":[200,50],"nice":false,"zero":false},
     "axis":{"orient":"left","offset":-86,"values":[0,0.5,1,1.5,2],"format":"d","labelExpr":"datum.value % 1 === 0 ? datum.label : ''","tickSize":-4,"labelPadding":8,"labelFontSize":15,"title":null,"domainColor":"#000","domainWidth":1.5,"tickColor":"#000"}},
   "detail":{"field":"s","type":"nominal"}
  }},
 {"data":{"name":"step"},"mark":{"type":"line","strokeWidth":1.5,"interpolate":"monotone","color":"#1a1aff","strokeDash":[3,2]},
  "encoding":{"x":{"field":"x","type":"quantitative"},"y":{"field":"y","type":"quantitative"}}},
 {"data":{"name":"dots"},"mark":{"type":"point","filled":true,"color":"#000","opacity":1,"size":26,"strokeWidth":0,"shape":"circle"},
  "encoding":{"x":{"field":"x","type":"quantitative"},"y":{"field":"y","type":"quantitative"}}},
 {"data":{"name":"fit"},"mark":{"type":"line","strokeWidth":2,"interpolate":"monotone","color":"#ff0000"},
  "encoding":{"x":{"field":"x","type":"quantitative"},"y":{"field":"y","type":"quantitative"}}},
 {"data":{"values":[{}]},"mark":{"type":"text","fontSize":17,"align":"left","baseline":"alphabetic","text":"x=42.5%"},
  "encoding":{"x":{"datum":5703.2,"type":"quantitative"},"y":{"datum":1.57,"type":"quantitative"}}},
 {"data":{"values":[{}]},"mark":{"type":"text","fontSize":22,"align":"center","baseline":"middle","text":"B"},
  "encoding":{"x":{"datum":5727.8,"type":"quantitative"},"y":{"datum":0.44,"type":"quantitative"}}},
 {"data":{"values":[{}]},"mark":{"type":"text","fontSize":22,"align":"center","baseline":"middle","text":"A"},
  "encoding":{"x":{"datum":5736.1,"type":"quantitative"},"y":{"datum":0.36,"type":"quantitative"}}}
]},
{"layer":[
 {"data":{"name":"gd"},"mark":{"type":"line","strokeWidth":1.3,"interpolate":"monotone"},
  "encoding":{
   "x":{"field":"x","type":"quantitative","scale":{"domain":[7235,7261.7],"range":[568,1018],"nice":false,"zero":false},
     "axis":{"orient":"bottom","offset":-54,"values":[7240,7245,7250,7255,7260],"format":"d","labelExpr":"datum.value % 10 === 0 ? datum.label : ''","tickSize":-5,"labelPadding":10,"labelFontSize":24,"title":"X-ray energy (eV)","titleFontSize":25.5,"titleX":784,"titleY":42.5,"titleBaseline":"alphabetic","domainColor":"#555"}},
   "y":{"field":"y","type":"quantitative","scale":{"domain":[0,3.48],"range":[320,10],"nice":false,"zero":false},
     "axis":{"orient":"left","offset":-568,"values":[0,1,2,3],"format":"d","labelExpr":"datum.value % 2 === 0 ? datum.label : ''","tickSize":-5,"labelPadding":9,"labelFontSize":24,"title":"Normalized absorption coefficient","titleFontSize":23.8,"titleX":-31,"titleY":186,"titleBaseline":"alphabetic","titleAngle":270,"domainColor":"#555"}},
   "color":{"field":"s","type":"nominal","scale":{"domain":["95","85","50","25","20","10","5"],"range":["#ff1a1a","#000000","#2b2bd0","#ff00ff","#1a9a8a","#ff0000","#000000"]},"legend":null}
  }},
 {"data":{"name":"gdlab"},"mark":{"type":"rule","color":"#000","strokeWidth":1},
  "encoding":{"x":{"field":"ax","type":"quantitative"},"y":{"field":"ay","type":"quantitative"},"x2":{"field":"bx"},"y2":{"field":"by"}}},
 {"data":{"name":"gdlab"},"transform":[{"calculate":"atan2(-(datum.by - datum.ay) * 89.08, (datum.bx - datum.ax) * 16.854) * 180 / PI","as":"ang"}],
  "mark":{"type":"point","filled":true,"color":"#000","opacity":1,"size":28,"strokeWidth":0,"shape":"M0,0L-2.2,-0.8L-2.2,0.8Z"},
  "encoding":{"x":{"field":"bx","type":"quantitative"},"y":{"field":"by","type":"quantitative"},"angle":{"field":"ang","type":"quantitative","scale":null}}},
 {"data":{"name":"gdlab"},"mark":{"type":"text","fontSize":24,"align":"center","baseline":"middle"},
  "encoding":{"x":{"field":"tx","type":"quantitative"},"y":{"field":"ty","type":"quantitative"},"text":{"field":"lab"}}},
 {"data":{"values":[{}]},"mark":{"type":"text","fontSize":23.5,"align":"left","baseline":"alphabetic","text":"Gd L₃-edge XANES"},
  "encoding":{"x":{"datum":7235.42,"type":"quantitative"},"y":{"datum":3.24,"type":"quantitative"}}}
]}
],
"resolve":{"scale":{"x":"independent","y":"independent","color":"independent"},"axis":{"x":"independent","y":"independent"}}
}
